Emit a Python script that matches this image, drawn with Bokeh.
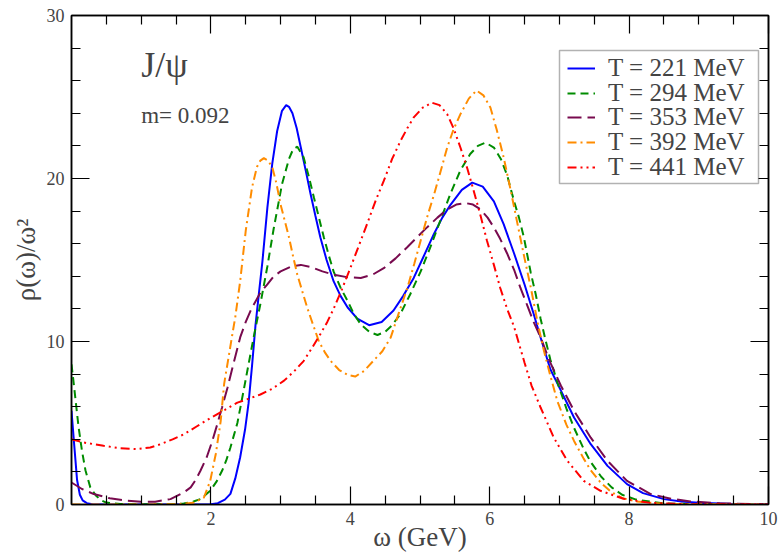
from bokeh.plotting import figure
from bokeh.models import (Range1d, LinearAxis, FixedTicker, Legend, LegendItem,
                          Label, BoxAnnotation)
from bokeh.embed import file_html
from bokeh.resources import INLINE

# ---------------- data ----------------
x_221 = [0, 0.04, 0.08, 0.12, 0.16, 0.22, 0.3, 0.6, 1.5, 2.0,
         2.1, 2.2, 2.28, 2.35, 2.42, 2.49, 2.54, 2.59, 2.64, 2.69,
         2.74, 2.81, 2.88, 2.95, 3.02, 3.08, 3.12, 3.17, 3.23, 3.29,
         3.36, 3.43, 3.5, 3.57, 3.66, 3.76, 3.86, 3.96, 4.1, 4.27,
         4.45, 4.62, 4.76, 4.91, 5.05, 5.2, 5.32, 5.44, 5.6, 5.75,
         5.9, 6.06, 6.2, 6.35, 6.5, 6.63, 6.73, 6.87, 7.02, 7.21,
         7.45, 7.69, 7.97, 8.2, 8.5, 8.75, 9.0, 9.5, 10]
y_221 = [5.75, 3.6, 1.5, 0.6, 0.25, 0.08, 0.02, 0, 0, 0.02,
         0.08, 0.3, 0.65, 1.6, 2.9, 4.6, 6.2, 8.5, 11.0, 13.0,
         14.95, 18.2, 20.9, 22.9, 24.15, 24.5, 24.4, 24.0, 23.1, 21.9,
         20.5, 19.05, 17.7, 16.4, 15.0, 13.7, 12.8, 12.1, 11.4, 11.0,
         11.2, 11.9, 12.8, 13.9, 15.2, 16.6, 17.6, 18.4, 19.3, 19.75,
         19.5, 18.6, 17.2, 15.4, 13.5, 11.7, 10.25, 8.3, 7.0, 5.34,
         3.7, 2.37, 1.25, 0.7, 0.33, 0.18, 0.1, 0.03, 0.01]

x_294 = [0, 0.03, 0.06, 0.1, 0.15, 0.2, 0.27, 0.35, 0.42, 0.5,
         0.7, 1.0, 1.4, 1.61, 1.75, 1.85, 1.99, 2.08, 2.16, 2.22,
         2.28, 2.38, 2.47, 2.54, 2.62, 2.71, 2.81, 2.9, 3.02, 3.12,
         3.18, 3.24, 3.33, 3.4, 3.48, 3.55, 3.62, 3.69, 3.76, 3.86,
         3.96, 4.05, 4.15, 4.27, 4.39, 4.5, 4.6, 4.72, 4.86, 5.01,
         5.15, 5.29, 5.44, 5.58, 5.72, 5.83, 5.94, 6.06, 6.16, 6.25,
         6.35, 6.42, 6.49, 6.59, 6.66, 6.73, 6.8, 6.87, 6.97, 7.1,
         7.21, 7.35, 7.45, 7.6, 7.75, 7.9, 8.1, 8.5, 9.0, 10]
y_294 = [8.6, 7.5, 6.35, 4.8, 3.3, 2.1, 1.05, 0.55, 0.27, 0.12,
         0.03, 0.01, 0.02, 0.06, 0.18, 0.33, 0.84, 1.4, 2.07, 2.7,
         3.5, 5.0, 7.0, 8.6, 10.4, 12.3, 14.6, 16.9, 19.65, 21.2,
         21.8, 21.95, 21.3, 20.2, 18.8, 17.6, 16.4, 15.3, 14.3, 13.3,
         12.5, 11.7, 11.05, 10.6, 10.4, 10.6, 11.0, 11.7, 12.9, 14.3,
         15.8, 17.4, 19.1, 20.5, 21.5, 22.0, 22.2, 21.9, 21.2, 20.2,
         18.6, 17.6, 16.4, 14.2, 12.9, 11.4, 10.1, 8.9, 7.5, 5.9,
         4.7, 3.4, 2.6, 1.7, 1.05, 0.6, 0.3, 0.07, 0.01, 0]

x_353 = [0, 0.15, 0.32, 0.55, 0.8, 1.0, 1.2, 1.42, 1.61, 1.71,
         1.78, 1.85, 1.94, 2.02, 2.09, 2.16, 2.24, 2.31, 2.42, 2.5,
         2.57, 2.62, 2.71, 2.81, 2.9, 3.0, 3.15, 3.29, 3.45, 3.6,
         3.76, 3.95, 4.15, 4.32, 4.48, 4.65, 4.82, 4.96, 5.1, 5.25,
         5.39, 5.52, 5.65, 5.76, 5.87, 5.97, 6.06, 6.15, 6.25, 6.35,
         6.44, 6.54, 6.63, 6.73, 6.87, 7.02, 7.21, 7.45, 7.69, 7.97,
         8.31, 8.6, 8.88, 9.3, 10]
y_353 = [1.35, 0.95, 0.64, 0.38, 0.23, 0.17, 0.17, 0.33, 0.74, 1.05,
         1.5, 2.07, 2.9, 3.9, 4.9, 5.95, 7.2, 8.4, 10.25, 11.2,
         11.9, 12.3, 13.0, 13.5, 14.0, 14.3, 14.6, 14.7, 14.55, 14.3,
         14.1, 13.95, 13.9, 14.1, 14.5, 15.1, 15.8, 16.4, 17.0, 17.6,
         18.1, 18.4, 18.5, 18.4, 18.1, 17.6, 17.0, 16.3, 15.4, 14.4,
         13.3, 12.2, 11.2, 10.25, 8.7, 7.3, 5.75, 4.1, 2.68, 1.45,
         0.64, 0.35, 0.19, 0.07, 0.01]

x_392 = [0, 1.0, 1.5, 1.75, 1.9, 1.99, 2.07, 2.14, 2.19, 2.26,
         2.31, 2.35, 2.42, 2.5, 2.59, 2.66, 2.71, 2.76, 2.82, 2.88,
         2.94, 3.0, 3.06, 3.12, 3.18, 3.24, 3.31, 3.38, 3.46, 3.55,
         3.64, 3.72, 3.84, 3.96, 4.07, 4.2, 4.35, 4.46, 4.58, 4.7,
         4.82, 4.92, 5.01, 5.1, 5.2, 5.3, 5.39, 5.48, 5.58, 5.7,
         5.81, 5.91, 6.01, 6.1, 6.2, 6.3, 6.39, 6.49, 6.59, 6.7,
         6.78, 6.87, 6.97, 7.1, 7.21, 7.35, 7.45, 7.6, 7.75, 7.9,
         8.1, 8.5, 9.0, 10]
y_392 = [0, 0, 0.02, 0.1, 0.43, 1.45, 3.1, 5.1, 7.4, 9.2,
         10.5, 11.5, 13.7, 16.8, 19.45, 20.7, 21.1, 21.25, 21.1, 20.7,
         19.7, 18.4, 17.4, 16.4, 15.2, 14.1, 13.1, 12.1, 11.1, 10.0,
         9.3, 8.8, 8.25, 7.95, 7.85, 8.2, 8.9, 9.4, 10.25, 11.8,
         13.3, 14.8, 16.2, 17.6, 19.0, 20.5, 21.9, 23.0, 23.95, 24.9,
         25.4, 25.1, 24.35, 23.0, 21.3, 19.3, 17.4, 15.3, 13.3, 10.9,
         9.4, 7.9, 6.35, 4.9, 3.9, 2.8, 2.1, 1.3, 0.75, 0.4,
         0.18, 0.04, 0.01, 0]

x_441 = [0, 0.18, 0.46, 0.7, 0.94, 1.13, 1.28, 1.45, 1.61, 1.8,
         1.99, 2.2, 2.38, 2.55, 2.71, 2.88, 3.05, 3.2, 3.33, 3.45,
         3.57, 3.67, 3.76, 3.88, 4.0, 4.12, 4.24, 4.36, 4.48, 4.6,
         4.72, 4.82, 4.91, 5.04, 5.17, 5.28, 5.39, 5.48, 5.58, 5.68,
         5.77, 5.87, 5.96, 6.06, 6.15, 6.25, 6.35, 6.5, 6.6, 6.73,
         6.92, 7.11, 7.35, 7.59, 7.92, 8.3, 8.8, 10]
y_441 = [4.0, 3.8, 3.6, 3.45, 3.4, 3.5, 3.7, 4.0, 4.3, 4.8,
         5.3, 5.8, 6.25, 6.5, 6.75, 7.1, 7.6, 8.2, 8.8, 9.6,
         10.45, 11.2, 12.0, 13.2, 14.5, 15.85, 17.2, 18.6, 19.85, 21.2,
         22.3, 23.1, 23.75, 24.35, 24.65, 24.5, 23.95, 23.1, 21.9, 20.6,
         19.25, 17.7, 16.2, 14.7, 13.3, 12.0, 10.9, 8.7, 7.3, 5.95,
         4.1, 2.7, 1.45, 0.84, 0.35, 0.1, 0.02, 0]

labels = ["T = 221 MeV", "T = 294 MeV", "T = 353 MeV", "T = 392 MeV", "T = 441 MeV"]
x_ticks = [2, 4, 6, 8, 10]
x_minor = [0.5, 1, 1.5, 2.5, 3, 3.5, 4.5, 5, 5.5, 6.5, 7, 7.5, 8.5, 9, 9.5]
y_ticks = [0, 10, 20, 30]
y_minor = [2, 4, 6, 8, 12, 14, 16, 18, 22, 24, 26, 28]

# ---------------- styling ----------------
FONT = "Liberation Serif"
colors = ["#0000ff", "#008c00", "#780a4e", "#ff8c00", "#ff0000"]
dashes = ["solid", "8 5", "14 6", "9 4 2 4", "9 4 2 4 2 4"]

p = figure(width=780, height=556, output_backend="svg", toolbar_location=None,
           x_range=Range1d(0, 10), y_range=Range1d(0, 30),
           min_border_left=71, min_border_right=12, min_border_top=15, min_border_bottom=52,
           x_axis_label="ω (GeV)", y_axis_label="ρ(ω)/ω²")
p.grid.visible = False
p.outline_line_color = "black"
p.outline_line_width = 1.5
p.background_fill_color = "white"
p.border_fill_color = "white"

def style_axis(ax, ticks, minor, show_labels=True):
    ax.ticker = FixedTicker(ticks=ticks, minor_ticks=minor)
    ax.major_tick_in = 18
    ax.major_tick_out = 0
    ax.minor_tick_in = 9
    ax.minor_tick_out = 0
    ax.major_tick_line_width = 1.2
    ax.minor_tick_line_width = 1.2
    ax.axis_line_width = 1.5
    ax.major_label_text_font = FONT
    ax.major_label_text_font_size = "18px"
    ax.major_label_standoff = 7
    ax.axis_label_text_font = FONT
    ax.axis_label_text_font_style = "normal"
    ax.axis_label_text_font_size = "27px"
    if not show_labels:
        ax.major_label_overrides = {t: "" for t in ticks}
        ax.major_label_standoff = 0

style_axis(p.xaxis[0], x_ticks, x_minor)
style_axis(p.yaxis[0], y_ticks, y_minor)
p.xaxis[0].axis_label_standoff = -6
p.yaxis[0].axis_label_standoff = 3

top = LinearAxis()
style_axis(top, x_ticks, x_minor, show_labels=False)
p.add_layout(top, "above")
right = LinearAxis()
style_axis(right, y_ticks, y_minor, show_labels=False)
p.add_layout(right, "right")

series = [(x_221, y_221), (x_294, y_294), (x_353, y_353), (x_392, y_392), (x_441, y_441)]
renderers = []
for (xs, ys), c, d in zip(series, colors, dashes):
    renderers.append(p.line(xs, ys, line_color=c, line_width=2, line_dash=d))

# legend frame (screen units, measured from the frame's bottom-left corner)
BOX_L, BOX_R, BOX_B, BOX_T = 488, 687, 321, 454
p.add_layout(BoxAnnotation(left=BOX_L, right=BOX_R, bottom=BOX_B, top=BOX_T,
                           left_units="screen", right_units="screen",
                           bottom_units="screen", top_units="screen",
                           fill_color="white", fill_alpha=1.0,
                           line_color="black", line_width=1.5))

# one legend row per series, with the reference's tight row pitch
ROW_PITCH = 24.8
ROW_H = 29.2
last_center = 503.7 - 166.0           # bottom row centre, from frame bottom
for i, (r, lab) in enumerate(zip(renderers, labels)):
    centre = last_center + (len(labels) - 1 - i) * ROW_PITCH
    leg = Legend(items=[LegendItem(label=lab, renderers=[r])],
                 location=(BOX_L + 8, centre - ROW_H / 2),
                 label_text_font=FONT, label_text_font_size="25px",
                 glyph_width=28, glyph_height=20, label_height=20,
                 spacing=0, padding=0, margin=0, label_standoff=13,
                 border_line_color=None, background_fill_alpha=0.0)
    p.add_layout(leg)

p.add_layout(Label(x=1.0, y=26.95, text="J/ψ", text_font=FONT,
                   text_font_size="36px", text_baseline="alphabetic"))
p.add_layout(Label(x=1.0, y=23.85, text="m= 0.092", text_font=FONT,
                   text_font_size="23px", text_baseline="alphabetic"))

open("out.html", "w").write(file_html(p, INLINE))
